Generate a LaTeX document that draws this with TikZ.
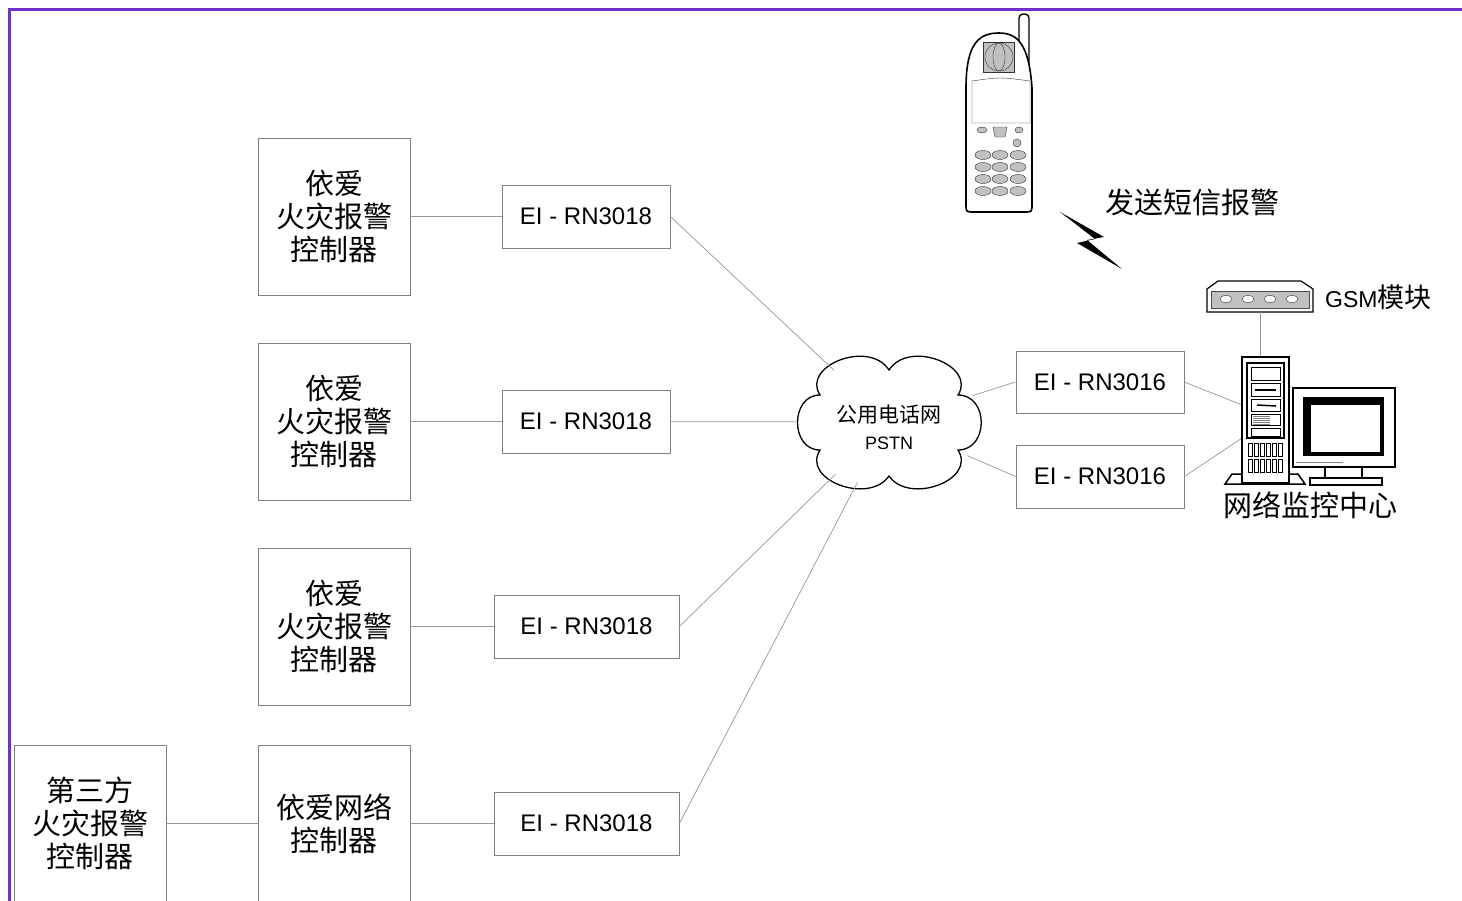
\documentclass[tikz,border=0pt]{standalone}
\usepackage{fontspec}
\setmainfont{Liberation Sans}
\newfontfamily\cjk{Noto Sans CJK SC}
\usepackage{tikz}
\usetikzlibrary{shapes.geometric}
\definecolor{framecol}{RGB}{112,48,208}
\definecolor{wiregray}{RGB}{150,150,150}
\definecolor{keygray}{RGB}{192,192,192}

\begin{document}
\begin{tikzpicture}[x=1pt,y=-1pt,
  ctrl/.style={draw=gray,line width=0.8pt,minimum width=152pt,minimum height=157pt,
    align=center,font=\cjk\fontsize{29}{33}\selectfont},
  modem/.style={draw=gray,line width=0.8pt,minimum width=168pt,minimum height=63pt,
    inner sep=0pt,font=\fontsize{24}{26}\selectfont},
  wire/.style={wiregray,line width=0.7pt},
  cjktext/.style={font=\cjk\fontsize{29}{33}\selectfont,inner sep=0pt},
  hw/.style={line width=1.5pt,fill=white}]
\useasboundingbox (0,0) rectangle (1462,900);
\clip (0,0) rectangle (1462,900);

% Frame
\draw [framecol, line width=3pt] (1470,9) -- (9,9) -- (9,910);

% Controllers
\node [ctrl] (c1) at (334,216.5) {依爱\\火灾报警\\控制器};
\node [ctrl] (c2) at (334,421.5) {依爱\\火灾报警\\控制器};
\node [ctrl] (c3) at (334,626.5) {依爱\\火灾报警\\控制器};
\node [ctrl] (c4) at (334,823.5) {依爱网络\\控制器};
\node [ctrl] (c0) at (90,823.5) {第三方\\火灾报警\\控制器};

% Line units
\node [modem] (e1) at (586,216.5) {EI - RN3018};
\node [modem] (e2) at (586,421.5) {EI - RN3018};
\node [modem, minimum width=185pt] (e3) at (586.5,626.5) {EI - RN3018};
\node [modem, minimum width=185pt] (e4) at (586.5,823.5) {EI - RN3018};
\node [modem, minimum height=62pt] (r1) at (1100,382) {EI - RN3016};
\node [modem] (r2) at (1100,476.5) {EI - RN3016};

% Phone network (cloud)
\draw [line width=1.3pt, fill=white] (820,395)
  .. controls (801,366) and (869,339) .. (889,370)
  .. controls (909,339) and (977,366) .. (958,395)
  .. controls (989,395) and (989,450) .. (958,450)
  .. controls (977,480) and (909,505) .. (889,476)
  .. controls (869,505) and (801,480) .. (820,450)
  .. controls (790,450) and (790,395) .. cycle;
\node [ellipse, minimum width=184pt, minimum height=128pt] (pstn) at (889,422) {};
\node [align=center, inner sep=0pt, font=\fontsize{21}{26}\selectfont] (pstntext) at (889,427)
  {{\cjk 公用电话网}\\[1pt]{\fontsize{18}{20}\selectfont PSTN}};

% Connectors
\draw [wire] (c0) -- (c4);
\draw [wire] (c1) -- (e1);
\draw [wire] (c2) -- (e2);
\draw [wire] (c3) -- (e3);
\draw [wire] (c4) -- (e4);
\draw [wire] (e1.east) -- (pstn);
\draw [wire] (e2) -- (pstn);
\draw [wire] (e3.east) -- (pstn);
\draw [wire] (e4.east) -- (pstn);
\draw [wire] (pstn) -- (r1.west);
\draw [wire] (pstn) -- (r2.west);

% Mobile phone
\draw [line width=1.4pt, fill=white, rounded corners=4pt] (1019,60) -- (1019,14) -- (1029,14) -- (1029,70);
\draw [line width=1.6pt, fill=white] (966,88) .. controls (966,42) and (980,33) .. (999,33)
  .. controls (1018,33) and (1029,45) .. (1032,88) -- (1032,204)
  .. controls (1032,212) .. (1024,212) -- (974,212)
  .. controls (966,212) .. (966,204) -- cycle;
\draw [black!80, fill=keygray] (983,42) rectangle (1014,72);
\draw [black!80] (999,57) circle (14);
\draw [black!80] (999,57) ellipse (6 and 14);
\draw [black!80] (972,81) .. controls (1000,77) .. (1030,81) -- (1030,123) -- (972,123) -- cycle;
\draw [black!80, fill=keygray] (982,130) ellipse (5 and 3);
\draw [black!80, fill=keygray] (993,127) -- (1007,127) -- (1005,137) -- (995,137) -- cycle;
\draw [black!80, fill=keygray] (1019,130) ellipse (4 and 3);
\draw [black!80, fill=keygray] (1017,143) ellipse (4 and 4);
\foreach \row in {155,167,179,191}
  \foreach \col in {983,1000,1018}
    \draw [black!80, fill=keygray] (\col,\row) ellipse (8 and 4.5);

% Lightning
\fill (1060,212) -- (1104,237) -- (1087,240) -- (1122,269) -- (1077,243) -- (1095,239) -- cycle;
\node [cjktext] (sms) at (1192,202) {发送短信报警};

% GSM module
\draw [line width=1.2pt, fill=white] (1207,312) -- (1207,289) -- (1218,281) -- (1301,281)
  -- (1313,289) -- (1313,312) -- cycle;
\draw [black!70, fill=keygray] (1211,291) rectangle (1309,308);
\foreach \x in {1226,1248,1270,1292}
  \draw [black!80, fill=white] (\x,299) ellipse (6 and 3.5);
\node [anchor=west, inner sep=0pt] (gsm) at (1325,297)
  {\fontsize{23}{26}\selectfont GSM\cjk\fontsize{27}{30}\selectfont 模块};

% Computer
\coordinate (gsmout) at (1260,312);
\coordinate (towertop) at (1260,357);
\coordinate (towerin1) at (1242,405);
\coordinate (towerin2) at (1242,438);
\draw [wire] (gsmout) -- (towertop);
\draw [wire] (r1.east) -- (towerin1);
\draw [wire] (r2.east) -- (towerin2);

\draw [hw] (1225,484) -- (1232,474) -- (1298,474) -- (1305,484) -- cycle;
\draw [hw] (1242,357) rectangle (1289,483);
\draw [line width=1.5pt] (1247,363) rectangle (1284,438);
\draw (1251,367) rectangle (1280,380);
\draw (1251,383) rectangle (1280,396);
\draw [line width=1.5pt] (1255,390) -- (1276,390);
\draw (1251,399) rectangle (1280,411);
\draw [line width=1.5pt] (1257,405) -- (1276,406);
\draw (1251,414) rectangle (1280,425);
\foreach \y in {416,418,...,424}
  \draw [gray] (1253,\y) -- (1270,\y);
\draw (1251,428) rectangle (1280,436);
\foreach \i in {0,...,5} {
  \draw (1248+\i*6,443) rectangle +(4,13);
  \draw (1248+\i*6,459) rectangle +(4,13);
}

\draw [hw] (1293,388) rectangle (1395,467);
\fill (1303,397) rectangle (1384,456);
\fill [white] (1311,405) rectangle (1380,452);
\draw [gray] (1296,462) -- (1343,462);
\draw [hw, line width=1.2pt] (1325,467) rectangle (1362,478);
\draw [hw, line width=1.2pt] (1310,478) rectangle (1382,485);

\node [cjktext] (centre) at (1310,505) {网络监控中心};
\end{tikzpicture}
\end{document}
